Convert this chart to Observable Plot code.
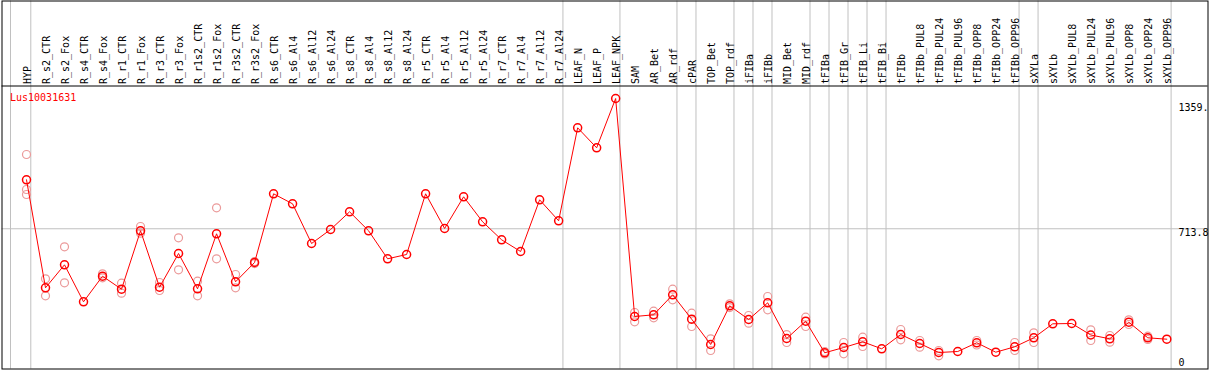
<!DOCTYPE html>
<html><head><meta charset="utf-8">
<script src="https://cdn.jsdelivr.net/npm/d3@7"></script>
<script src="https://cdn.jsdelivr.net/npm/@observablehq/plot@0.6"></script>
<style>body{margin:0;background:#fff} svg{display:block}</style>
</head><body><div id="chart"></div>
<script>
const categories = ["HYP","R_s2_CTR","R_s2_Fox","R_s4_CTR","R_s4_Fox","R_r1_CTR","R_r1_Fox","R_r3_CTR","R_r3_Fox","R_r1s2_CTR","R_r1s2_Fox","R_r3s2_CTR","R_r3s2_Fox","R_s6_CTR","R_s6_Al4","R_s6_Al12","R_s6_Al24","R_s8_CTR","R_s8_Al4","R_s8_Al12","R_s8_Al24","R_r5_CTR","R_r5_Al4","R_r5_Al12","R_r5_Al24","R_r7_CTR","R_r7_Al4","R_r7_Al12","R_r7_Al24","LEAF_N","LEAF_P","LEAF_NPK","SAM","AR_Bet","AR_rdf","cPAR","TOP_Bet","TOP_rdf","iFIBa","iFIBb","MID_Bet","MID_rdf","tFIBa","tFIB_Gr","tFIB_Li","tFIB_Bi","tFIBb","tFIBb_PUL8","tFIBb_PUL24","tFIBb_PUL96","tFIBb_OPP8","tFIBb_OPP24","tFIBb_OPP96","sXYLa","sXYLb","sXYLb_PUL8","sXYLb_PUL24","sXYLb_PUL96","sXYLb_OPP8","sXYLb_OPP24","sXYLb_OPP96"];
const means = [982.1,390.2,516.2,313.5,453.8,382.5,702.6,393.5,578.2,384.7,686.1,423.1,528.8,905.3,850.5,633.0,709.7,806.7,702.6,549.1,572.7,905.3,715.2,888.9,751.9,653.2,589.1,872.4,757.4,1267.0,1157.4,1427.6,232.9,242.2,351.8,218.1,79.5,291.5,216.5,308.0,112.3,207.2,34.0,63.0,94.3,55.9,134.3,84.9,35.6,41.1,88.8,37.3,66.9,116.2,192.9,194.5,131.5,110.7,201.7,116.2,108.5];
const rep1 = [1120.7,439.5,614.9,null,466.9,415.4,726.1,419.2,664.2,426.4,828.6,463.1,534.3,null,null,null,null,null,null,null,null,null,null,null,null,null,null,null,null,null,null,null,254.8,262.0,382.5,251.0,110.7,302.5,238.4,342.5,134.0,229.1,41.1,90.4,119.5,null,161.7,101.4,46.6,null,101.4,null,90.4,143.6,null,null,160.0,128.8,214.8,124.9,null];
const rep2 = [928.9,346.3,417.6,null,445.0,360.6,689.4,375.4,488.8,346.3,549.1,390.2,523.0,null,null,null,null,null,null,null,null,null,null,null,null,null,null,null,null,null,null,null,203.9,225.8,324.4,178.1,46.6,282.0,196.2,269.6,90.4,178.1,27.4,28.5,68.5,null,105.2,64.7,17.5,null,76.7,null,46.6,90.4,null,null,101.4,92.1,189.1,106.9,null];
const rep3 = [901.5];
const groupEnds = ["HYP","R_r7_Al24","LEAF_NPK","AR_rdf","cPAR","TOP_rdf","iFIBa","iFIBb","MID_rdf","tFIBa","tFIB_Gr","tFIB_Li","tFIB_Bi","tFIBb_OPP96","sXYLa","sXYLb_OPP96"];
const tickValues = [1359, 713.8, 0];
const tickLabels = ["1359.", "713.8", "0"];
const geneName = "Lus10031631";
const yMax = 1427.6;

const xDomain = [0, categories.length - 1];
const xRange = [26, 1166.3];
const yRange = [358.5, 98];
const yPix = d3.scaleLinear().domain([0, yMax]).range(yRange);
const headerValue = yPix.invert(85.5);
const xPix = d3.scaleLinear().domain(xDomain).range(xRange);

const sepIdx = [xPix.invert(10), ...groupEnds.map(g => categories.indexOf(g) + 0.226)];

const reps = [];
[rep1, rep2, rep3].forEach(arr => arr.forEach((v, i) => { if (v != null) reps.push({i, v}); }));
const meanRows = means.map((v, i) => ({i, v}));

const chart = Plot.plot({
  width: 1209, height: 370,
  marginLeft: 1.5, marginRight: 1.5, marginTop: 0.5, marginBottom: 1.5,
  style: {fontFamily: "DejaVu Sans Mono", fontSize: "10px", background: "white"},
  x: {type: "linear", domain: xDomain, range: xRange, axis: null},
  y: {type: "linear", domain: [0, yMax], range: yRange, axis: null},
  marks: [
    Plot.ruleX(sepIdx, {stroke: "#c0c0c0", strokeWidth: 1}),
    Plot.ruleY([713.8], {stroke: "#c0c0c0", strokeWidth: 1}),
    Plot.ruleY([headerValue], {stroke: "black", strokeWidth: 1}),
    Plot.frame({stroke: "black", strokeWidth: 1}),
    Plot.dot(reps, {x: "i", y: "v", r: 4, stroke: "#eb9a9a", strokeWidth: 1.2, fill: "none"}),
    Plot.line(meanRows, {x: "i", y: "v", stroke: "red", strokeWidth: 1}),
    Plot.dot(meanRows, {x: "i", y: "v", r: 4, stroke: "red", strokeWidth: 1.5, fill: "none"}),
    Plot.text(categories, {x: (d, i) => i, text: d => d, frameAnchor: "top", dy: 83, dx: 1, rotate: -90, textAnchor: "start", lineAnchor: "middle", fill: "black", fontSize: 10}),
    Plot.text([geneName], {frameAnchor: "top-left", dx: 8, dy: 93, textAnchor: "start", lineAnchor: "top", fill: "red", fontSize: 10}),
    Plot.text(tickValues.slice(0, 1), {y: d => d, text: (d, i) => tickLabels[i], frameAnchor: "right", dx: -29.5, textAnchor: "start", lineAnchor: "bottom", fill: "black", fontSize: 10}),
    Plot.text(tickValues.slice(1), {y: d => d, text: (d, i) => tickLabels[i + 1], frameAnchor: "right", dx: -29.5, textAnchor: "start", lineAnchor: "top", fill: "black", fontSize: 10})
  ]
});
document.getElementById("chart").appendChild(chart);
</script>
</body></html>
